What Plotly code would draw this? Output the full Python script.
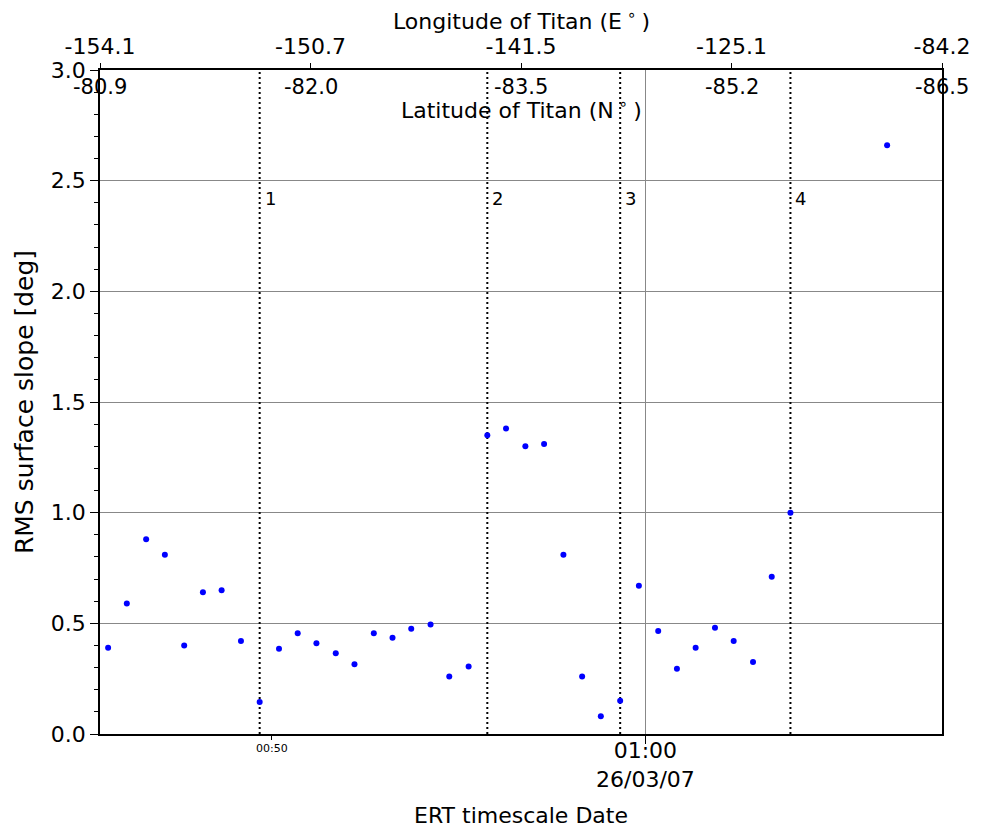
import plotly.graph_objects as go

DAY = "2007-03-26 "

times = ["00:45:38", "00:46:08", "00:46:39", "00:47:09", "00:47:40", "00:48:10",
         "00:48:40", "00:49:11", "00:49:41", "00:50:12", "00:50:42", "00:51:12",
         "00:51:43", "00:52:13", "00:52:44", "00:53:14", "00:53:44", "00:54:15",
         "00:54:45", "00:55:16", "00:55:46", "00:56:16", "00:56:47", "00:57:17",
         "00:57:48", "00:58:18", "00:58:48", "00:59:19", "00:59:49", "01:00:20",
         "01:00:50", "01:01:20", "01:01:51", "01:02:21", "01:02:52", "01:03:22",
         "01:03:52", "01:06:27"]
rms_slope = [0.39, 0.59, 0.88, 0.81, 0.40, 0.64, 0.65, 0.42, 0.145, 0.385,
             0.455, 0.41, 0.365, 0.315, 0.455, 0.435, 0.475, 0.495, 0.26, 0.305,
             1.35, 1.38, 1.30, 1.31, 0.81, 0.26, 0.08, 0.15, 0.67, 0.465,
             0.295, 0.39, 0.48, 0.42, 0.325, 0.71, 1.00, 2.66]

event_times = ["00:49:41", "00:55:46", "00:59:19", "01:03:52"]
event_labels = ["1", "2", "3", "4"]

lon_ticks = ["-154.1", "-150.7", "-141.5", "-125.1", "-84.2"]
lat_ticks = ["-80.9", "-82.0", "-83.5", "-85.2", "-86.5"]
top_positions = [0, 1, 2, 3, 4]

x_range = ["00:45:25", "01:07:55"]
major_tick = "01:00:00"
major_label = "01:00<br>26/03/07"
minor_tick = "00:50:00"
minor_label = "00:50"

FONT = "DejaVu Sans"
fig = go.Figure()

# event dotted lines
ex, ey = [], []
for t in event_times:
    ex += [DAY + t, DAY + t, None]
    ey += [0, 3, None]
fig.add_trace(go.Scatter(x=ex, y=ey, mode="lines",
                         line=dict(color="black", width=2, dash="2px,3px"),
                         hoverinfo="skip", showlegend=False))

fig.add_trace(go.Scatter(x=[DAY + t for t in times], y=rms_slope, mode="markers",
                         marker=dict(color="#0000ff", size=6), showlegend=False))

# dummy trace to activate top axis
fig.add_trace(go.Scatter(x=[0, 4], y=[None, None], xaxis="x2", yaxis="y",
                         showlegend=False, hoverinfo="skip"))

for t, lab in zip(event_times, event_labels):
    fig.add_annotation(x=DAY + t, y=2.42, xref="x", yref="y", text=lab,
                       showarrow=False, xanchor="left", xshift=3,
                       font=dict(family=FONT, size=18, color="black"))

# latitude tick labels (inside, below top axis)
for p, lab in zip(top_positions, lat_ticks):
    fig.add_annotation(x=p, y=1, xref="x2", yref="paper", text=lab,
                       showarrow=False, yanchor="middle", yshift=-17,
                       font=dict(family=FONT, size=21, color="black"))

# bottom tick labels
fig.add_annotation(x=DAY + minor_tick, y=0, xref="x", yref="paper", text=minor_label,
                   showarrow=False, yanchor="top", yshift=-6,
                   font=dict(family=FONT, size=11, color="black"))
fig.add_annotation(x=DAY + major_tick, y=0, xref="x", yref="paper", text=major_label,
                   showarrow=False, yanchor="middle", yshift=-31,
                   font=dict(family=FONT, size=22, color="black"))

fig.add_annotation(x=0.5, y=0, xref="paper", yref="paper",
                   text="ERT timescale Date", showarrow=False,
                   yanchor="middle", yshift=-81,
                   font=dict(family=FONT, size=22, color="black"))
fig.add_annotation(x=0.5, y=1, xref="paper", yref="paper",
                   text="Latitude of Titan (N<sup> ∘ </sup>)", showarrow=False,
                   yanchor="middle", yshift=-39,
                   font=dict(family=FONT, size=22, color="black"))
fig.add_annotation(x=0.5, y=1, xref="paper", yref="paper",
                   text="Longitude of Titan (E<sup> ∘ </sup>)", showarrow=False,
                   yanchor="middle", yshift=50,
                   font=dict(family=FONT, size=22, color="black"))

fig.update_layout(
    width=986, height=832,
    margin=dict(l=100, r=44, t=70, b=98, autoexpand=False),
    paper_bgcolor="white", plot_bgcolor="white",
    font=dict(family=FONT, size=22, color="black"),
    xaxis=dict(type="date", range=[DAY + x_range[0], DAY + x_range[1]],
               tickmode="array", tickvals=[DAY + major_tick],
               ticktext=[""], automargin=False,
               ticks="outside", ticklen=8, tickcolor="black",
               showgrid=True, gridcolor="#888888", gridwidth=1,
               showline=True, linecolor="black", linewidth=1.5, mirror=True,
               zeroline=False,
               minor=dict(tickmode="array", tickvals=[DAY + minor_tick],
                          ticks="outside", ticklen=4, tickcolor="black",
                          showgrid=False)),
    xaxis2=dict(overlaying="x", side="top", anchor="y", range=[0, 4],
                tickmode="array", tickvals=top_positions, ticktext=lon_ticks,
                ticks="outside", ticklen=6, tickcolor="black", automargin=False,
                showgrid=False, showline=False, zeroline=False,
                tickfont=dict(size=22)),
    yaxis=dict(range=[0, 3], tickmode="array",
               tickvals=[0, 0.5, 1, 1.5, 2, 2.5, 3],
               ticktext=["0.0", "0.5", "1.0", "1.5", "2.0", "2.5", "3.0"],
               ticks="outside", ticklen=8, tickcolor="black", automargin=False,
               showgrid=True, gridcolor="#888888", gridwidth=1,
               showline=True, linecolor="black", linewidth=1.5, mirror=True,
               zeroline=False, tickfont=dict(size=22),
               minor=dict(dtick=0.1, ticks="outside", ticklen=4,
                          tickcolor="black", showgrid=False),
               title=dict(text="RMS surface slope [deg]", standoff=10,
                          font=dict(size=25))),
)

fig.write_html("out.html")
